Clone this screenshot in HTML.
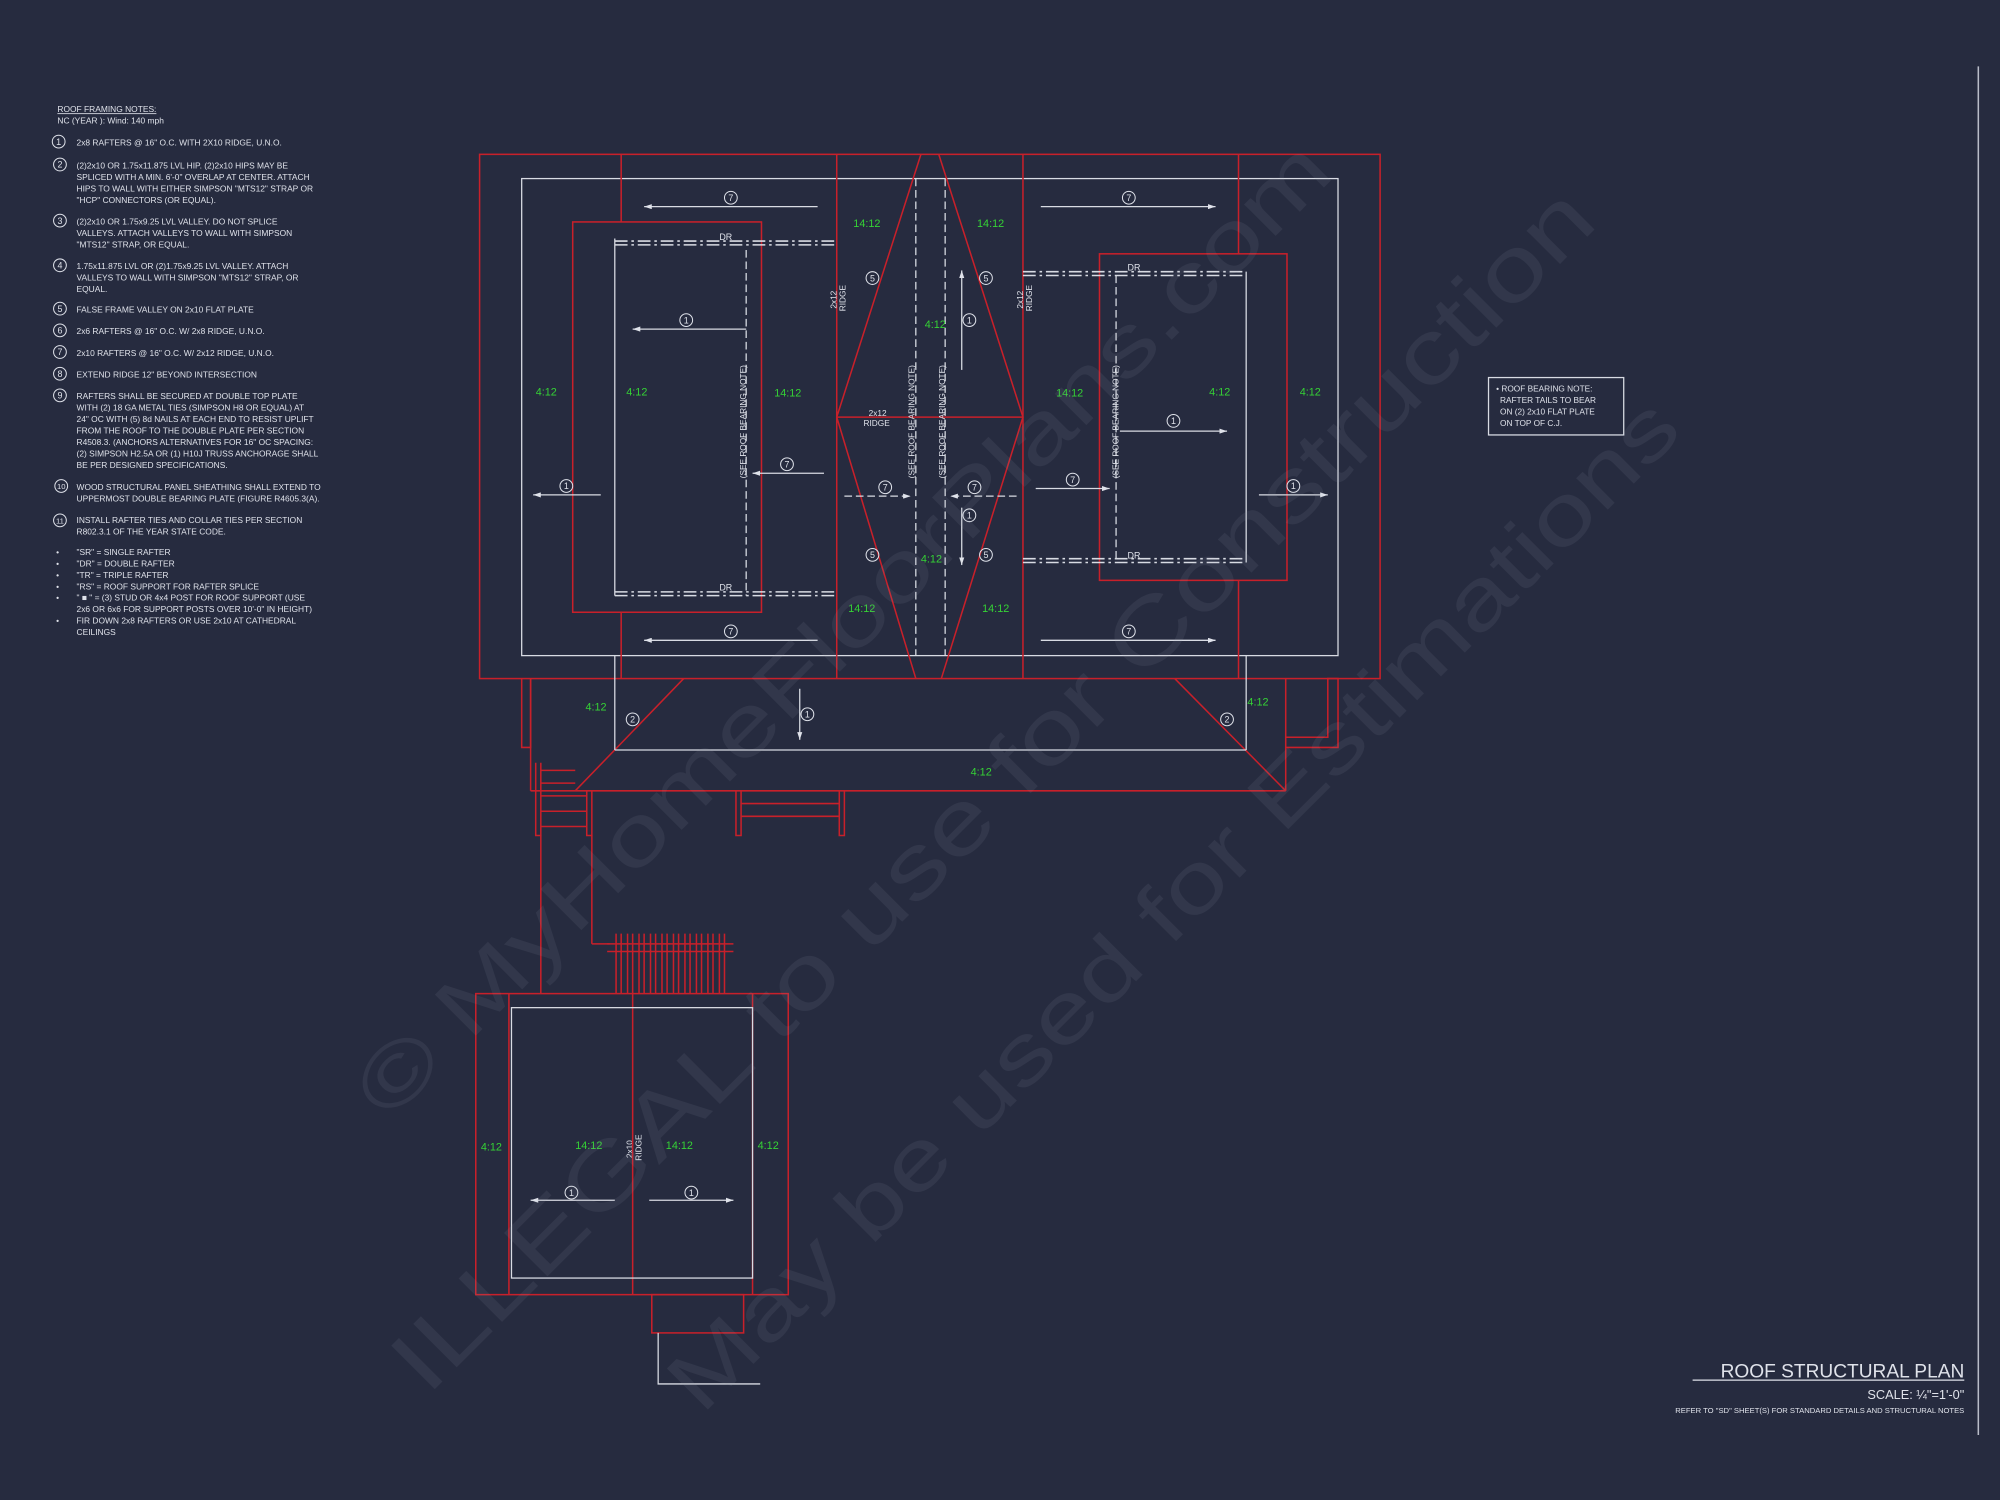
<!DOCTYPE html>
<html><head><meta charset="utf-8"><style>
html,body{margin:0;padding:0;background:#262b3f;}
svg{display:block}
text{font-family:"Liberation Sans",sans-serif;}
.w{fill:#dfe2ea}
.g{fill:#35d335;font-size:8.5px}
.r{stroke:#c8202a;stroke-width:1.2;fill:none}
.wl{stroke:#d8dbe3;stroke-width:1;fill:none}
.wd{stroke:#d8dbe3;stroke-width:1;fill:none;stroke-dasharray:6 3}
.dd{stroke:#d8dbe3;stroke-width:1.2;fill:none;stroke-dasharray:10 3 2 3}
.n{font-size:6.6px;fill:#dfe2ea}
.c{stroke:#dfe2ea;stroke-width:0.8;fill:none}
.cn{font-size:7px;fill:#dfe2ea;text-anchor:middle}
.wm{fill:#9aa0b2;opacity:0.10;font-family:"Liberation Serif",serif}
</style></head><body>
<svg width="2000" height="1500" viewBox="0 0 1568 1176" preserveAspectRatio="none" xmlns="http://www.w3.org/2000/svg">
<defs>
<marker id="ah" markerWidth="6" markerHeight="4" refX="6" refY="2" orient="auto"><path d="M0,0 L6,2 L0,4z" fill="#dfe2ea"/></marker>
</defs>
<rect width="1568" height="1176" fill="#262b3f"/>
<line x1="1551" y1="52" x2="1551" y2="1125" stroke="#b8bcc8" stroke-width="1.2"/>

<g>
<text x="45" y="88" class="n" text-decoration="underline">ROOF FRAMING NOTES:</text>
<text x="45" y="97" class="n">NC (YEAR ): Wind: 140 mph</text>
<g class="n">
<text x="60" y="114">2x8 RAFTERS @ 16" O.C. WITH 2X10 RIDGE, U.N.O.</text>
<text x="60" y="132">(2)2x10 OR 1.75x11.875 LVL HIP.  (2)2x10 HIPS MAY BE</text>
<text x="60" y="141">SPLICED WITH A MIN. 6'-0" OVERLAP AT CENTER. ATTACH</text>
<text x="60" y="150">HIPS TO WALL WITH EITHER SIMPSON "MTS12" STRAP OR</text>
<text x="60" y="159">"HCP" CONNECTORS (OR EQUAL).</text>
<text x="60" y="176">(2)2x10 OR 1.75x9.25 LVL VALLEY.  DO NOT SPLICE</text>
<text x="60" y="185">VALLEYS.  ATTACH VALLEYS TO WALL WITH  SIMPSON</text>
<text x="60" y="194">"MTS12" STRAP, OR EQUAL.</text>
<text x="60" y="211">1.75x11.875 LVL OR (2)1.75x9.25 LVL VALLEY.  ATTACH</text>
<text x="60" y="220">VALLEYS TO WALL WITH SIMPSON "MTS12" STRAP, OR</text>
<text x="60" y="229">EQUAL.</text>
<text x="60" y="245">FALSE FRAME VALLEY ON 2x10 FLAT PLATE</text>
<text x="60" y="262">2x6 RAFTERS @ 16" O.C. W/ 2x8 RIDGE, U.N.O.</text>
<text x="60" y="279">2x10 RAFTERS @ 16" O.C. W/ 2x12 RIDGE, U.N.O.</text>
<text x="60" y="296">EXTEND RIDGE 12" BEYOND INTERSECTION</text>
<text x="60" y="313">RAFTERS SHALL BE SECURED AT DOUBLE TOP PLATE</text>
<text x="60" y="322">WITH (2) 18 GA METAL TIES (SIMPSON H8 OR EQUAL) AT</text>
<text x="60" y="331">24" OC WITH (5) 8d NAILS AT EACH END TO RESIST UPLIFT</text>
<text x="60" y="340">FROM THE ROOF TO THE DOUBLE PLATE PER SECTION</text>
<text x="60" y="349">R4508.3. (ANCHORS ALTERNATIVES FOR 16" OC SPACING:</text>
<text x="60" y="358">(2) SIMPSON H2.5A OR (1) H10J TRUSS ANCHORAGE SHALL</text>
<text x="60" y="367">BE PER DESIGNED SPECIFICATIONS.</text>
<text x="60" y="384">WOOD STRUCTURAL PANEL SHEATHING SHALL EXTEND TO</text>
<text x="60" y="393">UPPERMOST DOUBLE BEARING PLATE (FIGURE R4605.3(A).</text>
<text x="60" y="410">INSTALL RAFTER TIES AND COLLAR TIES PER SECTION</text>
<text x="60" y="419">R802.3.1 OF THE YEAR STATE CODE.</text>
<text x="60" y="435">"SR"  = SINGLE RAFTER</text>
<text x="60" y="444">"DR" = DOUBLE RAFTER</text>
<text x="60" y="453">"TR" = TRIPLE RAFTER</text>
<text x="60" y="462">"RS" = ROOF SUPPORT FOR RAFTER SPLICE</text>
<text x="60" y="471">" ■ " = (3) STUD OR 4x4 POST FOR ROOF SUPPORT (USE</text>
<text x="60" y="480">2x6 OR 6x6 FOR SUPPORT POSTS OVER 10'-0" IN HEIGHT)</text>
<text x="60" y="489">FIR DOWN 2x8 RAFTERS OR USE 2x10 AT CATHEDRAL</text>
<text x="60" y="498">CEILINGS</text>
<text x="44" y="435">•</text><text x="44" y="444">•</text><text x="44" y="453">•</text><text x="44" y="462">•</text><text x="44" y="471">•</text><text x="44" y="489">•</text>
</g>
<g>
<circle cx="46" cy="111" r="5" class="c"/><text x="46" y="113.5" class="cn">1</text>
<circle cx="47" cy="129" r="5" class="c"/><text x="47" y="131.5" class="cn">2</text>
<circle cx="47" cy="173" r="5" class="c"/><text x="47" y="175.5" class="cn">3</text>
<circle cx="47" cy="208" r="5" class="c"/><text x="47" y="210.5" class="cn">4</text>
<circle cx="47" cy="242" r="5" class="c"/><text x="47" y="244.5" class="cn">5</text>
<circle cx="47" cy="259" r="5" class="c"/><text x="47" y="261.5" class="cn">6</text>
<circle cx="47" cy="276" r="5" class="c"/><text x="47" y="278.5" class="cn">7</text>
<circle cx="47" cy="293" r="5" class="c"/><text x="47" y="295.5" class="cn">8</text>
<circle cx="47" cy="310" r="5" class="c"/><text x="47" y="312.5" class="cn">9</text>
<circle cx="48" cy="381" r="5" class="c"/><text x="48" y="383.5" class="cn" style="font-size:6px">10</text>
<circle cx="47" cy="408" r="5" class="c"/><text x="47" y="410.5" class="cn" style="font-size:6px">11</text>
</g>
</g>

<rect x="1167" y="296" width="106" height="45" class="wl"/>
<g class="n" style="font-size:6.5px">
<text x="1173" y="307">• ROOF BEARING NOTE:</text>
<text x="1176" y="316">RAFTER TAILS TO BEAR</text>
<text x="1176" y="325">ON (2) 2x10 FLAT PLATE</text>
<text x="1176" y="334">ON TOP OF C.J.</text>
</g>

<text x="1540" y="1080" text-anchor="end" class="w" style="font-size:15px">ROOF STRUCTURAL PLAN</text>
<line x1="1327" y1="1082" x2="1540" y2="1082" stroke="#dfe2ea" stroke-width="1"/>
<text x="1540" y="1097" text-anchor="end" class="w" style="font-size:10px">SCALE: ¼"=1'-0"</text>
<text x="1540" y="1108" text-anchor="end" class="w" style="font-size:6px">REFER TO "SD" SHEET(S) FOR STANDARD DETAILS AND STRUCTURAL NOTES</text>

<rect x="376" y="121" width="706" height="411" class="r"/>
<rect x="409" y="140" width="640" height="374" class="wl"/>
<line x1="487" y1="121" x2="487" y2="174" class="r"/>
<line x1="487" y1="480" x2="487" y2="532" class="r"/>
<line x1="656" y1="121" x2="656" y2="532" class="r"/>
<line x1="802" y1="121" x2="802" y2="532" class="r"/>
<line x1="971" y1="121" x2="971" y2="199" class="r"/>
<line x1="971" y1="455" x2="971" y2="532" class="r"/>
<polyline points="722,121 656,327 718,532" class="r"/>
<polyline points="736,121 802,327 738,532" class="r"/>
<line x1="656" y1="327" x2="802" y2="327" class="r"/>
<line x1="718" y1="140" x2="718" y2="514" class="wd"/>
<line x1="741" y1="140" x2="741" y2="514" class="wd"/>
<rect x="449" y="174" width="148" height="306" class="r"/>
<rect x="862" y="199" width="147" height="256" class="r"/>
<polyline points="482,187 482,467" class="wl"/>
<line x1="585" y1="196" x2="585" y2="467" class="wd"/>
<line x1="482" y1="189" x2="656" y2="189" class="dd"/>
<line x1="482" y1="192" x2="656" y2="192" class="dd"/>
<line x1="482" y1="464" x2="656" y2="464" class="dd"/>
<line x1="482" y1="467" x2="656" y2="467" class="dd"/>
<line x1="977" y1="213" x2="977" y2="441" class="wl"/>
<line x1="875" y1="216" x2="875" y2="441" class="wd"/>
<line x1="802" y1="213" x2="977" y2="213" class="dd"/>
<line x1="802" y1="216" x2="977" y2="216" class="dd"/>
<line x1="802" y1="438" x2="977" y2="438" class="dd"/>
<line x1="802" y1="441" x2="977" y2="441" class="dd"/>
<g class="n" style="font-size:7px"><text x="564" y="188">DR</text><text x="564" y="463">DR</text><text x="884" y="212">DR</text><text x="884" y="438">DR</text></g>

<g class="n" style="font-size:6.5px">
<text transform="translate(585,375) rotate(-90)">(SEE ROOF BEARING NOTE)</text>
<text transform="translate(717,375) rotate(-90)">(SEE ROOF BEARING NOTE)</text>
<text transform="translate(741,375) rotate(-90)">(SEE ROOF BEARING NOTE)</text>
<text transform="translate(877,375) rotate(-90)">(SEE ROOF BEARING NOTE)</text>
<text transform="translate(656,242) rotate(-90)">2x12</text>
<text transform="translate(663,244) rotate(-90)">RIDGE</text>
<text transform="translate(802,242) rotate(-90)">2x12</text>
<text transform="translate(809,244) rotate(-90)">RIDGE</text>
<text x="681" y="326">2x12</text><text x="677" y="334">RIDGE</text>
<text transform="translate(496,908) rotate(-90)">2x10</text>
<text transform="translate(503,910) rotate(-90)">RIDGE</text>
</g>

<g class="g">
<text x="420" y="310">4:12</text><text x="491" y="310">4:12</text><text x="607" y="311">14:12</text>
<text x="669" y="178">14:12</text><text x="766" y="178">14:12</text>
<text x="725" y="257">4:12</text><text x="722" y="441">4:12</text>
<text x="665" y="480">14:12</text><text x="770" y="480">14:12</text>
<text x="828" y="311">14:12</text><text x="948" y="310">4:12</text><text x="1019" y="310">4:12</text>
<text x="459" y="557">4:12</text><text x="978" y="553">4:12</text><text x="761" y="608">4:12</text>
<text x="377" y="902">4:12</text><text x="451" y="901">14:12</text><text x="522" y="901">14:12</text><text x="594" y="901">4:12</text>
</g>

<g class="wl" marker-end="url(#ah)">
<line x1="641" y1="162" x2="505" y2="162"/>
<line x1="816" y1="162" x2="953" y2="162"/>
<line x1="585" y1="258" x2="496" y2="258"/>
<line x1="646" y1="371" x2="590" y2="371"/>
<line x1="471" y1="388" x2="418" y2="388"/>
<line x1="641" y1="502" x2="505" y2="502"/>
<line x1="816" y1="502" x2="953" y2="502"/>
<line x1="878" y1="338" x2="962" y2="338"/>
<line x1="812" y1="383" x2="870" y2="383"/>
<line x1="987" y1="388" x2="1041" y2="388"/>
<line x1="754" y1="290" x2="754" y2="212"/>
<line x1="754" y1="398" x2="754" y2="443"/>
<line x1="662" y1="389" x2="714" y2="389" stroke-dasharray="6 3"/>
<line x1="797" y1="389" x2="745" y2="389" stroke-dasharray="6 3"/>
<line x1="627" y1="540" x2="627" y2="580"/>
<line x1="482" y1="941" x2="416" y2="941"/>
<line x1="509" y1="941" x2="575" y2="941"/>
</g>

<g>
<g transform="translate(573,155)"><circle r="5" class="c"/><text y="2.5" class="cn">7</text></g>
<g transform="translate(885,155)"><circle r="5" class="c"/><text y="2.5" class="cn">7</text></g>
<g transform="translate(573,495)"><circle r="5" class="c"/><text y="2.5" class="cn">7</text></g>
<g transform="translate(885,495)"><circle r="5" class="c"/><text y="2.5" class="cn">7</text></g>
<g transform="translate(538,251)"><circle r="5" class="c"/><text y="2.5" class="cn">1</text></g>
<g transform="translate(617,364)"><circle r="5" class="c"/><text y="2.5" class="cn">7</text></g>
<g transform="translate(444,381)"><circle r="5" class="c"/><text y="2.5" class="cn">1</text></g>
<g transform="translate(684,218)"><circle r="5" class="c"/><text y="2.5" class="cn">5</text></g>
<g transform="translate(773,218)"><circle r="5" class="c"/><text y="2.5" class="cn">5</text></g>
<g transform="translate(684,435)"><circle r="5" class="c"/><text y="2.5" class="cn">5</text></g>
<g transform="translate(773,435)"><circle r="5" class="c"/><text y="2.5" class="cn">5</text></g>
<g transform="translate(760,251)"><circle r="5" class="c"/><text y="2.5" class="cn">1</text></g>
<g transform="translate(760,404)"><circle r="5" class="c"/><text y="2.5" class="cn">1</text></g>
<g transform="translate(694,382)"><circle r="5" class="c"/><text y="2.5" class="cn">7</text></g>
<g transform="translate(764,382)"><circle r="5" class="c"/><text y="2.5" class="cn">7</text></g>
<g transform="translate(920,330)"><circle r="5" class="c"/><text y="2.5" class="cn">1</text></g>
<g transform="translate(841,376)"><circle r="5" class="c"/><text y="2.5" class="cn">7</text></g>
<g transform="translate(1014,381)"><circle r="5" class="c"/><text y="2.5" class="cn">1</text></g>
<g transform="translate(496,564)"><circle r="5" class="c"/><text y="2.5" class="cn">2</text></g>
<g transform="translate(962,564)"><circle r="5" class="c"/><text y="2.5" class="cn">2</text></g>
<g transform="translate(633,560)"><circle r="5" class="c"/><text y="2.5" class="cn">1</text></g>
<g transform="translate(448,935)"><circle r="5" class="c"/><text y="2.5" class="cn">1</text></g>
<g transform="translate(542,935)"><circle r="5" class="c"/><text y="2.5" class="cn">1</text></g>
</g>

<polyline points="416,532 416,586 409,586 409,532" class="r"/>
<line x1="416" y1="532" x2="416" y2="620" class="r"/>
<line x1="416" y1="620" x2="1008" y2="620" class="r"/>
<line x1="1008" y1="532" x2="1008" y2="620" class="r"/>
<line x1="536" y1="532" x2="451" y2="620" class="r"/>
<line x1="921" y1="532" x2="1008" y2="620" class="r"/>
<line x1="482" y1="514" x2="482" y2="588" class="wl"/>
<line x1="977" y1="514" x2="977" y2="588" class="wl"/>
<line x1="482" y1="588" x2="977" y2="588" class="wl"/>
<polyline points="1008,578 1041,578 1041,532 1049,532 1049,586 1008,586" class="r"/>
<polyline points="420,598 420,655 424,655 424,598" class="r"/>
<line x1="424" y1="604" x2="451" y2="604" class="r"/>
<line x1="424" y1="614" x2="451" y2="614" class="r"/>
<line x1="424" y1="624" x2="460" y2="624" class="r"/>
<line x1="424" y1="636" x2="460" y2="636" class="r"/>
<line x1="424" y1="648" x2="460" y2="648" class="r"/>
<polyline points="460,620 460,655 464,655 464,620" class="r"/>
<polyline points="577,620 577,655 581,655 581,620" class="r"/>
<polyline points="658,620 658,655 662,655 662,620" class="r"/>
<line x1="581" y1="630" x2="658" y2="630" class="r"/>
<line x1="581" y1="640" x2="658" y2="640" class="r"/>
<line x1="424" y1="655" x2="424" y2="779" class="r"/>
<line x1="464" y1="655" x2="464" y2="740" class="r"/>
<line x1="464" y1="740" x2="478" y2="740" class="r"/>
<line x1="476" y1="740" x2="575" y2="740" class="r"/>
<line x1="476" y1="746" x2="575" y2="746" class="r"/>
<g class="r">
<path d="M483,732V779M487,732V779M492,732V779M496,732V779M501,732V779M505,732V779M510,732V779M514,732V779M519,732V779M523,732V779M528,732V779M532,732V779M537,732V779M541,732V779M546,732V779M550,732V779M555,732V779M559,732V779M564,732V779M568,732V779"/>
</g>
<rect x="373" y="779" width="245" height="236" class="r"/>
<line x1="399" y1="779" x2="399" y2="1015" class="r"/>
<line x1="590" y1="779" x2="590" y2="1015" class="r"/>
<line x1="496" y1="779" x2="496" y2="1015" class="r"/>
<rect x="401" y="790" width="189" height="212" class="wl"/>
<rect x="511" y="1015" width="72" height="30" class="r"/>
<polyline points="516,1045 516,1085 596,1085" class="wl"/>

<g class="wm">
<text transform="translate(305,880) rotate(-45)" style="font-size:66px" textLength="1050" lengthAdjust="spacingAndGlyphs">© MyHomeFloorPlans.com</text>
<text transform="translate(335,1095) rotate(-45)" style="font-size:70px" textLength="1300" lengthAdjust="spacingAndGlyphs">ILLEGAL to use for Construction</text>
<text transform="translate(550,1110) rotate(-45)" style="font-size:66px" textLength="1090" lengthAdjust="spacingAndGlyphs">May be used for Estimations</text>
</g>
</svg>
</body></html>
